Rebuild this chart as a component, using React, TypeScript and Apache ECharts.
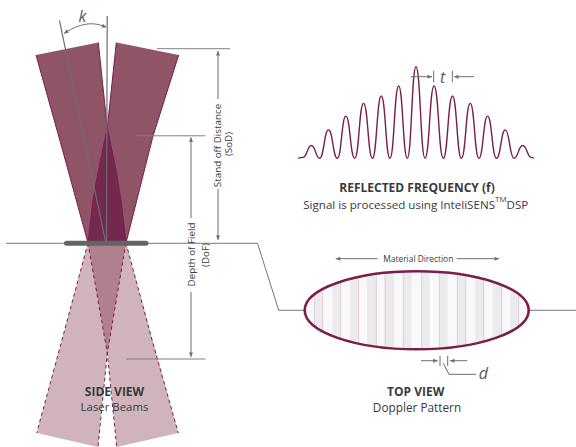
import React, { useEffect, useRef } from "react";
import * as echarts from "echarts";

// Signal trace: peak positions (in units of the period t) and amplitudes
const wavePeakPositions = [-5.9, -4.94, -3.96, -2.96, -1.96, -0.98, 0, 1.02, 2.06, 3.06, 4.04, 5.04, 6.02];
const wavePeakHeights = [14, 31, 46, 60, 68, 79, 100, 79, 68, 60, 46, 31, 14];
const waveTroughPositions = [-6.39, -5.44, -4.44, -3.46, -2.46, -1.47, -0.49, 0.51, 1.54, 2.56, 3.55, 4.54, 5.53, 6.52];
const waveTroughHeights = [1, 0, 0, 0, 0, 0, 0, 0, 0, 0, 0, 0, 0, 1];
const waveEnds = [[-6.65, 0], [6.65, 0]];

// Doppler pattern stripes (left and right edges of the grey bands, px)
const stripeStarts = [314.3, 332.3, 350, 367, 385, 403.3, 421.7, 439.3, 457.3, 475, 492.3, 510.3];
const stripeEnds = [322.7, 340.7, 358.7, 376.3, 394.3, 411.7, 429.7, 447.7, 465.7, 483.7, 501.7, 518.7];
const fringeLines = [314.3, 322.7, 340.7, 358.7, 376.3, 385, 403.3, 421.7, 439.3, 457.3, 465.7, 483.7, 501.7, 518.7];

const MAROON = "#7a1e4b";
const GREY = "#6d6e71";
const TEXT = "#3a3a3d";
const FONT = '"Open Sans", "Noto Sans", sans-serif';

const ELLIPSE = { cx: 416.7, cy: 310.3, rx: 112, ry: 39 };

type Pt = [number, number];

function line(a: Pt, b: Pt, stroke = GREY, lineWidth = 1, z = 5) {
  return { type: "line", z, silent: true, shape: { x1: a[0], y1: a[1], x2: b[0], y2: b[1] }, style: { stroke, lineWidth } };
}

function poly(points: Pt[], fill: string) {
  return { type: "polygon", silent: true, shape: { points }, style: { fill, stroke: "none" } };
}

function edge(points: Pt[], dash?: number[], lineWidth = 1) {
  return {
    type: "polyline",
    silent: true,
    shape: { points },
    style: { stroke: MAROON, lineWidth, fill: "none", lineDash: dash || null },
  };
}

function head(tip: Pt, from: Pt, size = 4.5, half = 2) {
  const dx = tip[0] - from[0];
  const dy = tip[1] - from[1];
  const l = Math.hypot(dx, dy) || 1;
  const ux = dx / l;
  const uy = dy / l;
  const bx = tip[0] - ux * size;
  const by = tip[1] - uy * size;
  return {
    type: "polygon",
    z: 5,
    silent: true,
    shape: { points: [tip, [bx - uy * half, by + ux * half], [bx + uy * half, by - ux * half]] },
    style: { fill: GREY, stroke: "none" },
  };
}

function arrow(from: Pt, tip: Pt, lineWidth = 1) {
  return [line(from, tip, GREY, lineWidth), head(tip, from)];
}

function text(t: string, x: number, y: number, size: number, opts: any = {}) {
  return {
    type: "text",
    z: 6,
    silent: true,
    x,
    y,
    rotation: opts.rotate ? Math.PI / 2 : 0,
    style: {
      text: t,
      x: 0,
      y: 0,
      fill: opts.fill || TEXT,
      align: opts.align || "center",
      verticalAlign: "middle",
      fontFamily: FONT,
      fontSize: size,
      fontWeight: opts.bold ? 700 : 400,
      fontStyle: opts.italic ? "italic" : "normal",
    },
  };
}

function ellipseY(x: number) {
  const u = (x - ELLIPSE.cx) / ELLIPSE.rx;
  return ELLIPSE.ry * Math.sqrt(Math.max(0, 1 - u * u));
}

function buildStripes() {
  const out: any[] = [];
  stripeStarts.forEach((s, i) => {
    const e = stripeEnds[i];
    const top: Pt[] = [];
    const bottom: Pt[] = [];
    for (let k = 0; k <= 4; k++) {
      const x = s + ((e - s) * k) / 4;
      const h = ellipseY(x);
      top.push([x, ELLIPSE.cy - h]);
      bottom.unshift([x, ELLIPSE.cy + h]);
    }
    out.push(poly([...top, ...bottom], "#ebebed"));
  });
  fringeLines.forEach((x) => {
    const h = ellipseY(x);
    out.push({
      type: "line",
      silent: true,
      shape: { x1: x, y1: ELLIPSE.cy - h, x2: x, y2: ELLIPSE.cy + h },
      style: { stroke: "#e0ccd4", lineWidth: 1 },
    });
  });
  return out;
}

function buildGraphics() {
  const beamFill = "#8f5567";
  const overlapFill = "#75284f";
  const lowFill = "#d0b4bb";
  const lowOverlap = "#b1808f";
  const waistDown: Pt = [107.3, 353];
  const innerRight: Pt[] = [[98.3, 42.5], [107.3, 128], [116, 170], [121, 200], [126, 243]];
  const innerLeft: Pt[] = [[116.3, 42.5], [107.3, 128], [98.5, 170], [93, 200], [88, 243]];

  const elements: any[] = [
    // lower beams
    poly([[88, 243], [36.7, 433], [98, 447], [107.3, 353], [125.5, 243]], lowFill),
    poly([[126, 243], [178.3, 433], [116.7, 447], [107.3, 353], [88.5, 243]], lowFill),
    poly([[88, 243], [126, 243], waistDown], lowOverlap),
    edge([[88, 243], [62, 340], [36.7, 433]], [3.5, 3]),
    edge([[126, 243], [152, 340], [178.3, 433]], [3.5, 3]),
    edge([[88, 243], waistDown, [116.7, 447]], [3.5, 3]),
    edge([[126, 243], waistDown, [98, 447]], [3.5, 3]),

    // upper beams
    poly([[36, 55], [62, 148], [88, 243], ...innerRight.slice().reverse()], beamFill),
    poly([[178.7, 55], [153, 136], [126, 243], ...innerLeft.slice().reverse()], beamFill),
    poly([[88, 243], [93, 200], [98.5, 170], [107.3, 128], [116, 170], [121, 200], [126, 243]], overlapFill),
    edge([[36, 55], [62, 148], [88, 243]]),
    edge([[178.7, 55], [153, 136], [126, 243]]),
    edge(innerRight),
    edge(innerLeft),

    // surface and spot
    line([6, 243.3], [257.5, 243.3], "#77787b", 1, 1),
    {
      type: "polyline",
      silent: true,
      z: 1,
      shape: { points: [[257.5, 243.3], [278.7, 310.3], [305, 310.3]] },
      style: { stroke: "#77787b", lineWidth: 1, fill: "none" },
    },
    line([528, 310.3], [576, 310.3], "#77787b", 1, 1),
    {
      type: "line",
      z: 4,
      silent: true,
      shape: { x1: 66.5, y1: 243.3, x2: 146, y2: 243.3 },
      style: { stroke: "#636466", lineWidth: 5, lineCap: "round" },
    },

    // k angle
    line([107.2, 16], [106.5, 241], GREY, 1.2),
    line([59.5, 20.7], [105.5, 241.5], GREY, 1.2),
    {
      type: "bezierCurve",
      z: 5,
      silent: true,
      shape: { x1: 64, y1: 33.5, x2: 106, y2: 27, cpx1: 84, cpy1: 20.5, cpx2: 96, cpy2: 23 },
      style: { stroke: GREY, lineWidth: 1, fill: "none" },
    },
    head([64, 33.5], [70, 29.5]),
    head([106.5, 27.2], [100, 25]),
    text("k", 82.5, 16, 16, { italic: true, fill: "#58595b" }),

    // stand off distance
    line([157, 48.7], [230, 48.7], "#808184"),
    ...arrow([218, 99], [218, 51]),
    ...arrow([218, 189], [218, 240]),
    text("Stand off Distance", 217, 145.5, 9.8, { rotate: true }),
    text("(SoD)", 228, 144, 9.8, { rotate: true }),

    // depth of field
    line([136, 135.8], [205.5, 135.8], "#808184"),
    ...arrow([191, 218], [191, 137.5]),
    ...arrow([191, 292], [191, 357]),
    line([126, 359], [205.5, 359], "#808184"),
    text("Depth of Field", 191, 254.5, 9.8, { rotate: true }),
    text("(DoF)", 205, 255, 9.8, { rotate: true }),

    // captions
    text("SIDE VIEW", 114.5, 391.5, 12, { bold: true }),
    text("Laser Beams", 114.5, 406.5, 11.4),
    text("REFLECTED FREQUENCY (f)", 417, 187.5, 12, { bold: true }),
    text("Signal is processed using InteliSENS", 495, 204, 11.6, { align: "right" }),
    text("TM", 495, 198.5, 8, { align: "left" }),
    text("DSP", 506.5, 204, 11.6, { align: "left" }),
    text("TOP VIEW", 415.7, 391.5, 12, { bold: true }),
    text("Doppler Pattern", 417, 407, 11.8),

    // t marker
    ...arrow([410.7, 76.7], [432, 76.7]),
    line([433.7, 70.7], [433.7, 82.3]),
    line([452.3, 70.7], [452.3, 82.3]),
    ...arrow([474.3, 76.7], [454, 76.7]),
    text("t", 442.7, 77, 16, { italic: true, fill: "#58595b" }),

    // top view
    {
      type: "ellipse",
      silent: true,
      shape: { cx: ELLIPSE.cx, cy: ELLIPSE.cy, rx: ELLIPSE.rx, ry: ELLIPSE.ry },
      style: { fill: "#f9f9fa", stroke: "none" },
    },
    ...buildStripes(),
    {
      type: "ellipse",
      z: 3,
      silent: true,
      shape: { cx: ELLIPSE.cx, cy: ELLIPSE.cy, rx: ELLIPSE.rx, ry: ELLIPSE.ry },
      style: { fill: "none", stroke: MAROON, lineWidth: 2.6 },
    },
    ...arrow([377.7, 258.7], [335.7, 258.7]),
    ...arrow([456.7, 258.7], [499, 258.7]),
    text("Material Direction", 418.3, 258.7, 8.4),

    // d marker
    ...arrow([421, 360.7], [437.7, 360.7]),
    line([440, 355.7], [440, 366]),
    line([447.7, 355.7], [447.7, 366]),
    ...arrow([467.3, 360.7], [450, 360.7]),
    {
      type: "polyline",
      z: 5,
      silent: true,
      shape: { points: [[443.3, 363.3], [449, 374.3], [476, 374.3]] },
      style: { stroke: GREY, lineWidth: 1, fill: "none" },
    },
    text("d", 483.3, 373.3, 16, { italic: true, fill: "#58595b" }),
  ];
  return elements;
}

function waveData() {
  const pts: number[][] = [];
  waveTroughPositions.forEach((x, i) => {
    pts.push([x, waveTroughHeights[i]]);
    if (i < wavePeakPositions.length) pts.push([wavePeakPositions[i], wavePeakHeights[i]]);
  });
  return [waveEnds[0], ...pts, waveEnds[1]];
}

export default function App() {
  const ref = useRef<HTMLDivElement>(null);
  useEffect(() => {
    document.body.style.margin = "0";
    const chart = echarts.init(ref.current!, undefined, { renderer: "svg" });
    chart.setOption({
      animation: false,
      backgroundColor: "#ffffff",
      grid: { left: 298, top: 66.7, width: 236, height: 91.6 },
      xAxis: { type: "value", min: -6.66, max: 6.66, show: false },
      yAxis: { type: "value", min: 0, max: 100, show: false },
      tooltip: { show: false },
      graphic: { elements: buildGraphics() },
      series: [
        {
          type: "line",
          data: waveData(),
          smooth: 0.5,
          smoothMonotone: "x",
          symbol: "none",
          clip: false,
          lineStyle: { color: MAROON, width: 1.4 },
          z: 4,
        },
      ],
    });
    return () => chart.dispose();
  }, []);
  return <div ref={ref} style={{ width: 576, height: 447 }} />;
}
